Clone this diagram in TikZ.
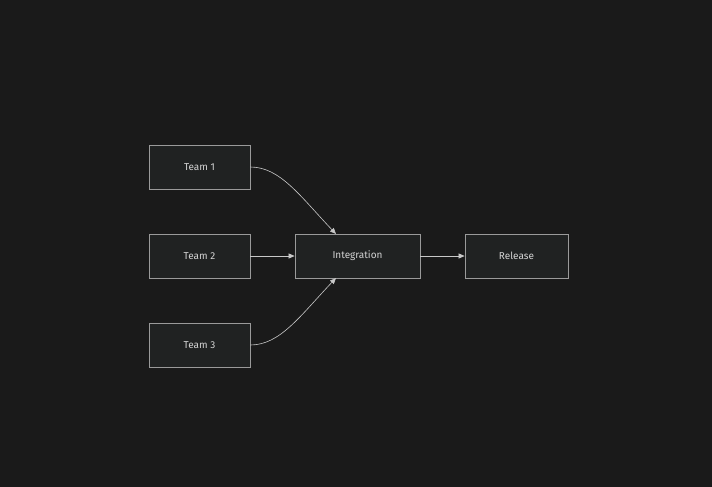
\documentclass[tikz,border=0pt]{standalone}
\usepackage{fontspec}
\setmainfont{Fira Sans}
\usetikzlibrary{arrows.meta}
\definecolor{bg}{HTML}{1A1A1A}
\definecolor{nf}{HTML}{202222}
\definecolor{nb}{HTML}{9A9A9A}
\definecolor{tx}{HTML}{D4D4D4}
\definecolor{ln}{HTML}{C8C8C8}
\begin{document}
\begin{tikzpicture}[x=1pt,y=-1pt,
 box/.style={draw=nb,fill=nf,text=tx,line width=0.8pt,minimum height=44pt,inner sep=0pt,font=\fontsize{10}{12}\selectfont},
 arr/.style={draw=ln,line width=0.6pt,-{Triangle[length=6pt,width=5pt]}}]
\fill[bg] (0,0) rectangle (712,487);
\useasboundingbox (0,0) rectangle (712,487);
\node[box,minimum width=101pt] (t1) at (199.5,167) {Team 1};
\node[box,minimum width=101pt] (t2) at (199.5,256) {Team 2};
\node[box,minimum width=101pt] (t3) at (199.5,345) {Team 3};
\node[box,minimum width=125pt] (in) at (357.5,256) {Integration};
\node[box,minimum width=103pt] (re) at (516.5,256) {Release};
\coordinate (intop) at (336,234);
\coordinate (inbot) at (336,278);
\draw[arr] (t1.east) .. controls (280,167) and (300,196) .. (intop);
\draw[arr] (t3.east) .. controls (280,345) and (300,316) .. (inbot);
\draw[arr] (t2) -- (in);
\draw[arr] (in) -- (re);
\end{tikzpicture}
\end{document}
